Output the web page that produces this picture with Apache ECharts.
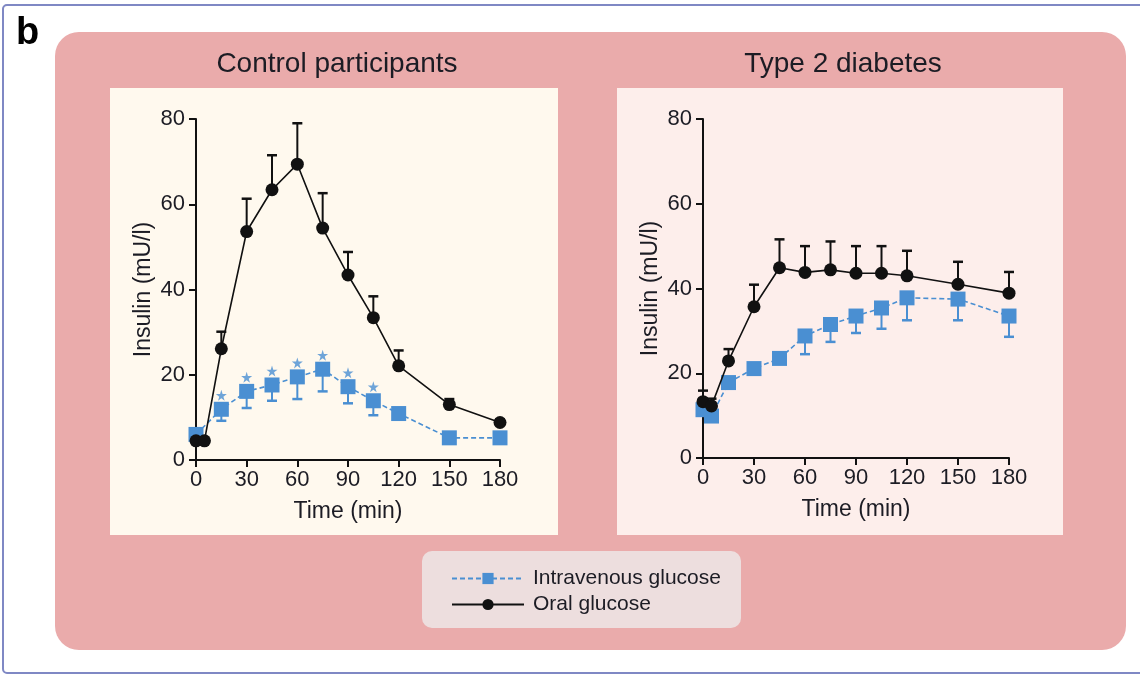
<!DOCTYPE html>
<html>
<head>
<meta charset="utf-8">
<script src="https://cdn.jsdelivr.net/npm/echarts@6/dist/echarts.min.js"></script>
<style>html,body{margin:0;padding:0;background:#fff;}#c{width:1140px;height:676px;}</style>
</head>
<body>
<div id="c"></div>
<script>
// ---- data ----
const panelTitles = ['Control participants', 'Type 2 diabetes'];
const seriesNames = ['Intravenous glucose', 'Oral glucose'];
const xTicks = [0, 30, 60, 90, 120, 150, 180];
const yTicks = [0, 20, 40, 60, 80];

const ctrlOralTimes = [0, 5, 15, 30, 45, 60, 75, 90, 105, 120, 150, 180];
const ctrlOral      = [4.5, 4.5, 26.1, 53.6, 63.4, 69.4, 54.4, 43.4, 33.4, 22.1, 13.0, 8.8];
const ctrlOralSem   = [0, 0, 4.0, 7.7, 8.1, 9.6, 8.2, 5.4, 5.0, 3.6, 1.3, 0.7];

const ctrlIvTimes = [0, 15, 30, 45, 60, 75, 90, 105, 120, 150, 180];
const ctrlIv      = [6.0, 11.9, 16.1, 17.6, 19.5, 21.3, 17.2, 13.9, 10.9, 5.2, 5.2];
const ctrlIvSem   = [0, 2.7, 3.9, 3.7, 5.2, 5.2, 3.9, 3.4, 1.2, 0, 0];
const ctrlStarTimes = [15, 30, 45, 60, 75, 90, 105];

const t2dOralTimes = [0, 5, 15, 30, 45, 60, 75, 90, 105, 120, 150, 180];
const t2dOral      = [13.3, 12.3, 22.9, 35.7, 44.9, 43.8, 44.4, 43.6, 43.6, 43.0, 41.0, 38.9];
const t2dOralSem   = [2.6, 1.7, 2.8, 5.2, 6.7, 6.2, 6.7, 6.4, 6.4, 5.9, 5.3, 5.0];

const t2dIvTimes = [0, 5, 15, 30, 45, 60, 75, 90, 105, 120, 150, 180];
const t2dIv      = [11.4, 9.9, 17.8, 21.1, 23.5, 28.8, 31.5, 33.5, 35.4, 37.8, 37.5, 33.5];
const t2dIvSem   = [0, 0, 0, 0, 0, 4.3, 4.1, 4.0, 4.9, 5.3, 5.0, 4.9];

// ---- styles ----
const FONT = '"Liberation Sans", Arial, sans-serif';
const BLUE = '#4a8fd2';
const BLACK = '#111111';
const TXT = '#1c1c24';

const zip = (t, v) => t.map((x, i) => [x, v[i]]);
const zip3 = (t, v, s) => t.map((x, i) => [x, v[i], s[i]]);

function errRender(color, dir) {
  return function (params, api) {
    const t = api.value(0), m = api.value(1), s = api.value(2);
    if (!s) return null;
    const p0 = api.coord([t, m]);
    const p1 = api.coord([t, m + dir * s]);
    const w = 5;
    return {
      type: 'group',
      children: [
        { type: 'line', shape: { x1: p0[0], y1: p0[1], x2: p1[0], y2: p1[1] }, style: { stroke: color, lineWidth: 2 } },
        { type: 'line', shape: { x1: p1[0] - w, y1: p1[1], x2: p1[0] + w, y2: p1[1] }, style: { stroke: color, lineWidth: 2.5 } }
      ]
    };
  };
}

const grids = [
  { left: 196, top: 119, width: 304, height: 341 },
  { left: 703, top: 119, width: 306, height: 339 }
];

function xAxisCfg(i) {
  return {
    gridIndex: i, type: 'value', min: 0, max: 180, interval: 30,
    name: 'Time (min)', nameLocation: 'middle', nameGap: 40,
    nameTextStyle: { fontSize: 23, color: TXT, fontFamily: FONT },
    axisLine: { show: true, onZero: false, lineStyle: { color: BLACK, width: 2 } },
    axisTick: { show: true, length: 7, inside: false, lineStyle: { color: BLACK, width: 2 } },
    axisLabel: { fontSize: 22, color: TXT, fontFamily: FONT, margin: 9,
      formatter: v => xTicks.includes(v) ? String(v) : '' },
    splitLine: { show: false }
  };
}
function yAxisCfg(i) {
  return {
    gridIndex: i, type: 'value', min: 0, max: 80, interval: 20,
    name: 'Insulin (mU/l)', nameLocation: 'middle', nameGap: 41, nameRotate: 90,
    nameTextStyle: { fontSize: 23, color: TXT, fontFamily: FONT },
    axisLine: { show: true, lineStyle: { color: BLACK, width: 2 } },
    axisTick: { show: true, length: 7, inside: false, lineStyle: { color: BLACK, width: 2 } },
    axisLabel: { fontSize: 22, color: TXT, fontFamily: FONT, margin: 11,
      formatter: v => yTicks.includes(v) ? String(v) : '' },
    splitLine: { show: false }
  };
}

const starPath = 'path://M50,0 L61,35 L98,35 L68,57 L79,91 L50,70 L21,91 L32,57 L2,35 L39,35 Z';

function panelSeries(i, ivT, iv, ivSem, oralT, oral, oralSem) {
  return [
    { type: 'custom', name: 'ivErr' + i, xAxisIndex: i, yAxisIndex: i, z: 3,
      renderItem: errRender(BLUE, -1), encode: { x: 0, y: 1 }, data: zip3(ivT, iv, ivSem), silent: true },
    { type: 'line', name: seriesNames[0], xAxisIndex: i, yAxisIndex: i, z: 4,
      data: zip(ivT, iv), symbol: 'rect', symbolSize: 15,
      itemStyle: { color: BLUE }, lineStyle: { color: BLUE, width: 1.6, type: [5, 3] }, animation: false },
    { type: 'custom', name: 'oralErr' + i, xAxisIndex: i, yAxisIndex: i, z: 5,
      renderItem: errRender(BLACK, 1), encode: { x: 0, y: 1 }, data: zip3(oralT, oral, oralSem), silent: true },
    { type: 'line', name: seriesNames[1], xAxisIndex: i, yAxisIndex: i, z: 6,
      data: zip(oralT, oral), symbol: 'circle', symbolSize: 13,
      itemStyle: { color: BLACK }, lineStyle: { color: BLACK, width: 1.6, type: 'solid' }, animation: false }
  ];
}

const starData = ctrlStarTimes.map(t => [t, ctrlIv[ctrlIvTimes.indexOf(t)]]);

const series = [
  ...panelSeries(0, ctrlIvTimes, ctrlIv, ctrlIvSem, ctrlOralTimes, ctrlOral, ctrlOralSem),
  ...panelSeries(1, t2dIvTimes, t2dIv, t2dIvSem, t2dOralTimes, t2dOral, t2dOralSem),
  { type: 'scatter', name: 'stars', xAxisIndex: 0, yAxisIndex: 0, z: 4,
    data: starData, symbol: starPath, symbolSize: 11, symbolOffset: [0, -14],
    itemStyle: { color: BLUE }, silent: true, animation: false }
];

const chart = echarts.init(document.getElementById('c'), null, { renderer: 'canvas' });
chart.setOption({
  animation: false,
  backgroundColor: '#ffffff',
  textStyle: { fontFamily: FONT },
  graphic: [
    { type: 'rect', z: -10, shape: { x: 3, y: 5, width: 1150, height: 668, r: 4 },
      style: { fill: '#ffffff', stroke: '#7f88c4', lineWidth: 2 } },
    { type: 'rect', z: -9, shape: { x: 55, y: 32, width: 1071, height: 618, r: 24 },
      style: { fill: '#eaabab' } },
    { type: 'rect', z: -8, shape: { x: 110, y: 88, width: 448, height: 447 },
      style: { fill: '#fff9ee' } },
    { type: 'rect', z: -8, shape: { x: 617, y: 88, width: 446, height: 447 },
      style: { fill: '#fdeeeb' } },
    { type: 'rect', z: -8, shape: { x: 422, y: 551, width: 319, height: 77, r: 10 },
      style: { fill: '#eddede' } },
    { type: 'text', z: 10, left: 16, top: 15,
      style: { text: 'b', fontSize: 38, fontWeight: 'bold', fill: '#000', fontFamily: FONT } }
  ],
  title: [
    { text: panelTitles[0], left: 332, top: 45, textAlign: 'center',
      textStyle: { fontSize: 28, fontWeight: 'normal', color: TXT, fontFamily: FONT } },
    { text: panelTitles[1], left: 838, top: 45, textAlign: 'center',
      textStyle: { fontSize: 28, fontWeight: 'normal', color: TXT, fontFamily: FONT } }
  ],
  legend: {
    data: seriesNames, orient: 'vertical', left: 446, top: 563,
    itemWidth: 72, itemHeight: 14, itemGap: 5,
    textStyle: { fontSize: 21, color: TXT, fontFamily: FONT, padding: [0, 0, 0, 4] },
    selectedMode: false
  },
  grid: grids,
  xAxis: [xAxisCfg(0), xAxisCfg(1)],
  yAxis: [yAxisCfg(0), yAxisCfg(1)],
  series: series
});
</script>
</body>
</html>
